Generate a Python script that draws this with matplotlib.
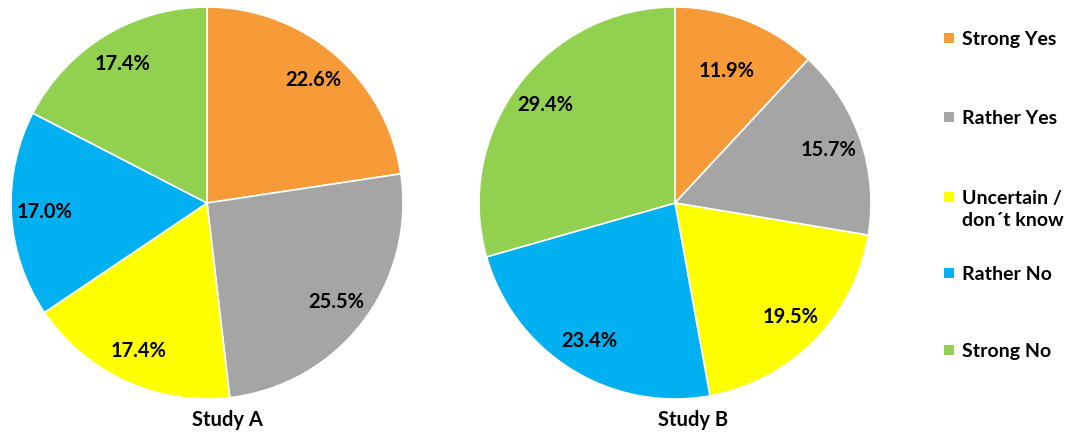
import matplotlib
matplotlib.use("Agg")
import matplotlib.pyplot as plt
from matplotlib.patches import Rectangle

categories = ["Strong Yes", "Rather Yes", "Uncertain /\ndon\u00b4t know", "Rather No", "Strong No"]
study_a = [22.6, 25.5, 17.4, 17.0, 17.4]
study_b = [11.9, 15.7, 19.5, 23.4, 29.4]
titles = ["Study A", "Study B"]
colors = ["#F79A38", "#A5A5A5", "#FFFF00", "#00B0F0", "#92D050"]

plt.rcParams['font.family'] = ['Lato', 'DejaVu Sans']
W, H = 1074, 438
fig = plt.figure(figsize=(W / 100, H / 100), dpi=100)

def add_pie(cx, cy, r, values, title, title_x):
    ax = fig.add_axes([(cx - r) / W, (H - cy - r) / H, 2 * r / W, 2 * r / H])
    wedges, texts, autotexts = ax.pie(
        values, colors=colors, startangle=90, counterclock=False,
        autopct=lambda p: f"{p:.1f}%", pctdistance=0.83,
        wedgeprops=dict(edgecolor="white", linewidth=1.2),
        textprops=dict(fontsize=14.5, fontweight="bold", color="black"))
    ax.set_aspect("equal")
    ax.set_xlim(-1, 1)
    ax.set_ylim(-1, 1)
    fig.text(title_x / W, 1 - 420 / H, title, ha="center", va="center",
             fontsize=14.5, fontweight="bold")
    return wedges, autotexts

wa, ta = add_pie(207, 203, 196, study_a, titles[0], 227)
wb, tb = add_pie(675, 203, 196, study_b, titles[1], 693)
# pull the small slice label slightly inward as in reference
x, y = tb[0].get_position()
tb[0].set_position((x * 0.87, y * 0.87))

# legend (manual layout: first-line centre y in pixels)
legend_y = [38, 117, 197, 273, 350]
sq = 10
for cat, col, yy in zip(categories, colors, legend_y):
    fig.patches.append(Rectangle((944 / W, (H - yy - sq / 2) / H), sq / W, sq / H,
                                 transform=fig.transFigure, facecolor=col,
                                 edgecolor="none"))
    fig.text(962 / W, (H - yy + 7) / H, cat, ha="left", va="top",
             fontsize=14, fontweight="bold", linespacing=1.35)

fig.savefig("out.png", dpi=100)
